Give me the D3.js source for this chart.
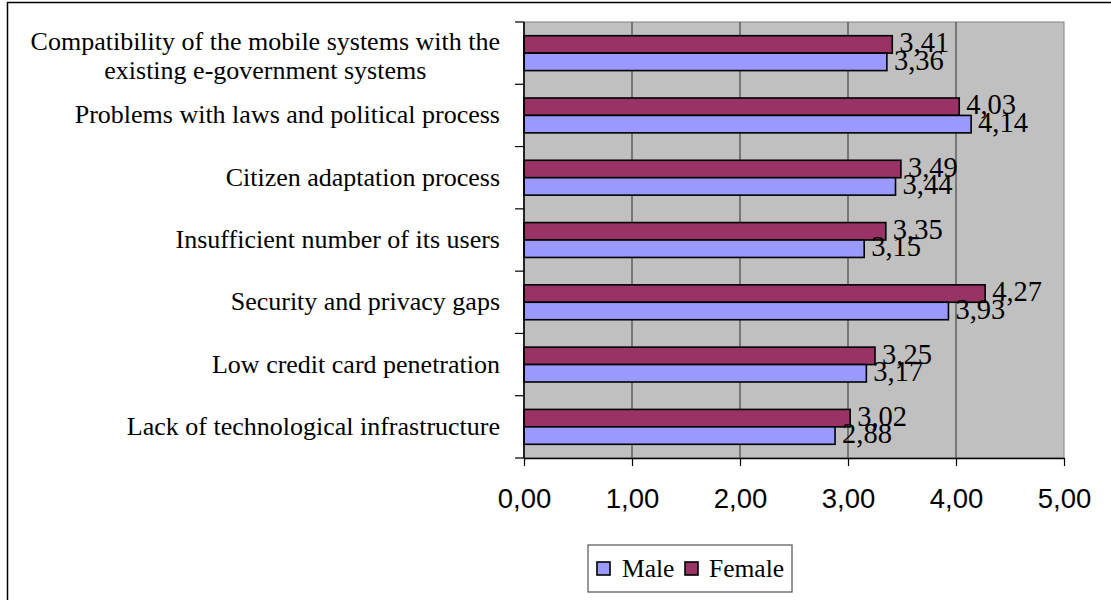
<!DOCTYPE html>
<html>
<head>
<meta charset="utf-8">
<script src="https://cdn.jsdelivr.net/npm/d3@7"></script>
<style>
  body { margin: 0; background: #fff; }
</style>
</head>
<body>
<div id="chart"></div>
<script>
// categories from top to bottom, "\n" marks a line break in the axis label
const categories = [
    "Compatibility of the mobile systems with the\nexisting e-government systems",
    "Problems with laws and political process",
    "Citizen adaptation process",
    "Insufficient number of its users",
    "Security and privacy gaps",
    "Low credit card penetration",
    "Lack of technological infrastructure"
]
const maleValues = [3.36, 4.14, 3.44, 3.15, 3.93, 3.17, 2.88]
const femaleValues = [3.41, 4.03, 3.49, 3.35, 4.27, 3.25, 3.02]
const xTicks = [0, 1, 2, 3, 4, 5]
const seriesNames = ["Female", "Male"]
const colors = { Male: "#9999FF", Female: "#993366" }

let svg_width = 1111
let svg_height = 600

var margin = { top: 22, right: 47, bottom: 142, left: 524 },
    width = svg_width - margin.left - margin.right,
    height = svg_height - margin.top - margin.bottom;

const data = categories.map((c, i) => ({
    name: c,
    Male: maleValues[i],
    Female: femaleValues[i]
}))

const fmt = v => d3.format(".2f")(v).replace(".", ",")

var svg = d3.select("#chart")
    .append("svg")
    .attr("width", svg_width)
    .attr("height", svg_height)

// outer chart border
svg.append("rect")
    .attr("x", 7.5)
    .attr("y", 2.5)
    .attr("width", svg_width + 10)
    .attr("height", svg_height + 10)
    .attr("fill", "#fff")
    .attr("stroke", "#000")
    .attr("stroke-width", 1.5)

var g = svg.append("g")
    .attr("transform", "translate(" + margin.left + "," + margin.top + ")")

var xScale = d3.scaleLinear()
    .domain([0, 5])
    .range([0, width])

var yScale = d3.scaleBand()
    .domain(categories)
    .range([0, height])
    .paddingInner(0.44)
    .paddingOuter(0.22)

var ySub = d3.scaleBand()
    .domain(seriesNames)
    .range([0, yScale.bandwidth()])

// plot background
g.append("rect")
    .attr("width", width)
    .attr("height", height)
    .attr("fill", "#C0C0C0")
    .attr("stroke", "#808080")
    .attr("stroke-width", 1)

// vertical gridlines
g.append("g").selectAll("line").data(xTicks.slice(1, -1))
    .enter().append("line")
    .attr("x1", d => xScale(d))
    .attr("x2", d => xScale(d))
    .attr("y1", 0)
    .attr("y2", height)
    .style("stroke", "#505050")
    .style("stroke-width", "1.3px")

// bars
var groups = g.append("g").selectAll("g").data(data)
    .enter().append("g")
    .attr("transform", d => "translate(0," + yScale(d.name) + ")")

groups.selectAll("rect")
    .data(d => seriesNames.map(s => ({ key: s, value: d[s] })))
    .enter().append("rect")
    .attr("x", xScale(0))
    .attr("y", d => ySub(d.key))
    .attr("width", d => xScale(d.value) - xScale(0))
    .attr("height", ySub.bandwidth())
    .style("fill", d => colors[d.key])
    .style("stroke", "#000")
    .style("stroke-width", "1.6px")

// value labels
groups.selectAll("text")
    .data(d => seriesNames.map(s => ({ key: s, value: d[s] })))
    .enter().append("text")
    .attr("x", d => xScale(d.value) + 7)
    .attr("y", d => ySub(d.key) + ySub.bandwidth() - 1)
    .text(d => fmt(d.value))
    .style("font-family", "'Liberation Serif', 'Times New Roman', serif")
    .style("font-size", "28.5px")
    .attr("fill", "#000")

// x axis
var xAxis = g.append("g")
    .attr("transform", "translate(0," + height + ")")
    .call(d3.axisBottom(xScale).tickValues(xTicks).tickFormat(fmt).tickSize(8).tickSizeOuter(0))
xAxis.select(".domain").attr("stroke", "#000").attr("stroke-width", 1.6)
xAxis.selectAll(".tick line").attr("stroke", "#000").attr("stroke-width", 1.2)
xAxis.selectAll(".tick text")
    .attr("y", 30)
    .style("font-family", "'Liberation Sans', Arial, sans-serif")
    .style("font-size", "27.5px")
    .attr("fill", "#000")

// y axis: ticks on category boundaries
var yAxis = g.append("g")
yAxis.append("line")
    .attr("x1", 0).attr("x2", 0)
    .attr("y1", 0).attr("y2", height)
    .attr("stroke", "#000")
    .attr("stroke-width", 1.6)
yAxis.selectAll(".ytick").data(d3.range(categories.length + 1))
    .enter().append("line")
    .attr("class", "ytick")
    .attr("x1", -9).attr("x2", 0)
    .attr("y1", i => i * yScale.step())
    .attr("y2", i => i * yScale.step())
    .attr("stroke", "#000")
    .attr("stroke-width", 1.2)

// category labels: block right aligned, lines centred inside the block
var labelRight = -24
yAxis.selectAll(".cat").data(categories)
    .enter().append("text")
    .attr("class", "cat")
    .style("font-family", "'Liberation Serif', 'Times New Roman', serif")
    .style("font-size", "26px")
    .attr("fill", "#000")
    .each(function(d) {
        let el = d3.select(this)
        let lines = d.split("\n")
        let cy = yScale(d) + yScale.bandwidth() / 2
        let lh = 29
        let first = cy + 8 - (lines.length - 1) * lh / 2 + (lines.length - 1) * 3
        let spans = lines.map((line, i) => el.append("tspan")
            .attr("y", first + i * lh)
            .text(line))
        let maxW = d3.max(spans, s => s.node().getComputedTextLength())
        spans.forEach(s => s
            .attr("x", labelRight - maxW / 2)
            .attr("text-anchor", "middle"))
    })

// legend
var legend = svg.append("g")
    .attr("transform", "translate(588,545)")
legend.append("rect")
    .attr("width", 204)
    .attr("height", 47)
    .attr("fill", "#fff")
    .attr("stroke", "#606060")
    .attr("stroke-width", 1.3)

const legendItems = [
    { key: "Male", x: 9, tx: 34 },
    { key: "Female", x: 97, tx: 121 }
]
legendItems.forEach(item => {
    legend.append("rect")
        .attr("x", item.x)
        .attr("y", 17)
        .attr("width", 13)
        .attr("height", 13)
        .style("fill", colors[item.key])
        .style("stroke", "#000")
        .style("stroke-width", "1.6px")
    legend.append("text")
        .attr("x", item.tx)
        .attr("y", 32)
        .text(item.key)
        .style("font-family", "'Liberation Serif', 'Times New Roman', serif")
        .style("font-size", "25.5px")
        .attr("fill", "#000")
})
</script>
</body>
</html>
